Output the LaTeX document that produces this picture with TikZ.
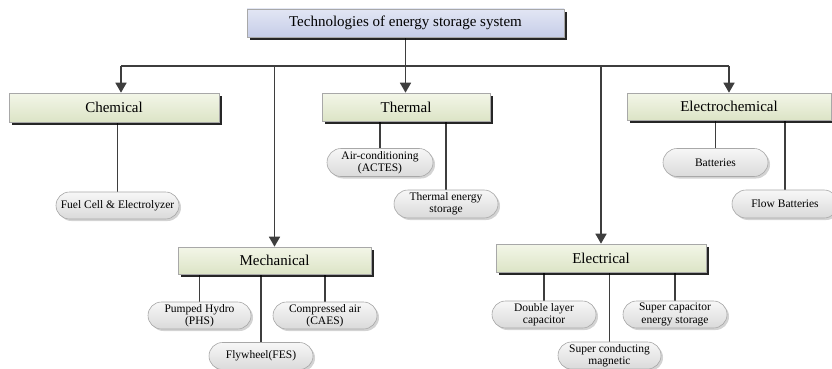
\documentclass[tikz,border=0pt]{standalone}
\usepackage{fontspec}
\setmainfont{Liberation Serif}
\usetikzlibrary{arrows.meta,shapes.misc,shadows,backgrounds}
\definecolor{linec}{HTML}{3E3E3E}
\definecolor{bordc}{HTML}{A8A8A8}
\definecolor{catT}{HTML}{F3F6E8}
\definecolor{catB}{HTML}{DCE4C6}
\definecolor{topT}{HTML}{E2E6F4}
\definecolor{topB}{HTML}{C6CDE8}
\definecolor{pillT}{HTML}{F7F7F7}
\definecolor{pillB}{HTML}{DADADA}
\tikzset{
  catbox/.style={draw=bordc, line width=0.6pt, top color=catT, bottom color=catB,
    inner sep=0pt, font=\fontsize{15}{18}\selectfont,
    drop shadow={shadow xshift=3pt, shadow yshift=-3pt, fill=black, opacity=0.85}},
  topbox/.style={catbox, top color=topT, bottom color=topB},
  pill/.style={rounded rectangle, draw=bordc, line width=0.6pt, top color=pillT, bottom color=pillB,
    inner sep=0pt, align=center, font=\fontsize{11.5}{12.3}\selectfont,
    drop shadow={shadow xshift=2pt, shadow yshift=-2pt, fill=gray, opacity=0.35}},
  conn/.style={draw=linec, line width=1.6pt},
  arr/.style={conn, -{Triangle[width=11pt,length=10pt]}},
}
\begin{document}
\begin{tikzpicture}[x=1pt,y=-1pt]
\useasboundingbox (0,0) rectangle (832,369);
% main nodes
\node[topbox, minimum width=317, minimum height=28] (top) at (405.5,23) {Technologies of energy storage system};
\node[catbox, minimum width=210, minimum height=29] (chem) at (114,107.5) {Chemical};
\node[catbox, minimum width=168, minimum height=28] (therm) at (406,107) {Thermal};
\node[catbox, minimum width=204, minimum height=27] (echem) at (729,106.5) {Electrochemical};
\node[catbox, minimum width=193, minimum height=27] (mech) at (274.5,260.5) {Mechanical};
\node[catbox, minimum width=210, minimum height=28] (elec) at (601,258) {Electrical};
% leaves
\node[pill, minimum width=123, minimum height=27] (fuel) at (117.5,205.5) {Fuel Cell \& Electrolyzer};
\node[pill, minimum width=103, minimum height=27] (phs) at (199.5,315.5) {Pumped Hydro\\(PHS)};
\node[pill, minimum width=104, minimum height=27] (fly) at (261,356) {Flywheel(FES)};
\node[pill, minimum width=104, minimum height=27] (caes) at (325,315.5) {Compressed air\\(CAES)};
\node[pill, minimum width=106, minimum height=28] (air) at (380,162.5) {Air-conditioning\\(ACTES)};
\node[pill, minimum width=104, minimum height=28] (tes) at (446,204) {Thermal energy\\storage};
\node[pill, minimum width=105, minimum height=28] (bat) at (715.5,162.5) {Batteries};
\node[pill, minimum width=106, minimum height=28] (flow) at (785,204) {Flow Batteries};
\node[pill, minimum width=104, minimum height=27] (dlc) at (544,314.5) {Double layer\\capacitor};
\node[pill, minimum width=103, minimum height=27] (scm) at (609.5,355.5) {Super conducting\\magnetic};
\node[pill, minimum width=104, minimum height=27] (sce) at (675,314.5) {Super capacitor\\energy storage};
% connectors
\coordinate (bL) at (121,66);
\coordinate (bR) at (729,66);
\begin{scope}[on background layer]
\draw[conn] (bL) -- (bR);
\draw[arr] (top.south) -- (top.south |- therm.north);
\draw[arr] (bL) -- (bL |- chem.north);
\draw[arr] (bL -| mech.north) -- (mech.north);
\draw[arr] (bL -| elec.north) -- (elec.north);
\draw[arr] (bR) -- (bR |- echem.north);
\draw[conn] (fuel.north |- chem.south) -- (fuel.north);
\draw[conn] (phs.north |- mech.south) -- (phs.north);
\draw[conn] (fly.north |- mech.south) -- (fly.north);
\draw[conn] (caes.north |- mech.south) -- (caes.north);
\draw[conn] (air.north |- therm.south) -- (air.north);
\draw[conn] (tes.north |- therm.south) -- (tes.north);
\draw[conn] (bat.north |- echem.south) -- (bat.north);
\draw[conn] (flow.north |- echem.south) -- (flow.north);
\draw[conn] (dlc.north |- elec.south) -- (dlc.north);
\draw[conn] (scm.north |- elec.south) -- (scm.north);
\draw[conn] (sce.north |- elec.south) -- (sce.north);
\end{scope}
\end{tikzpicture}
\end{document}
